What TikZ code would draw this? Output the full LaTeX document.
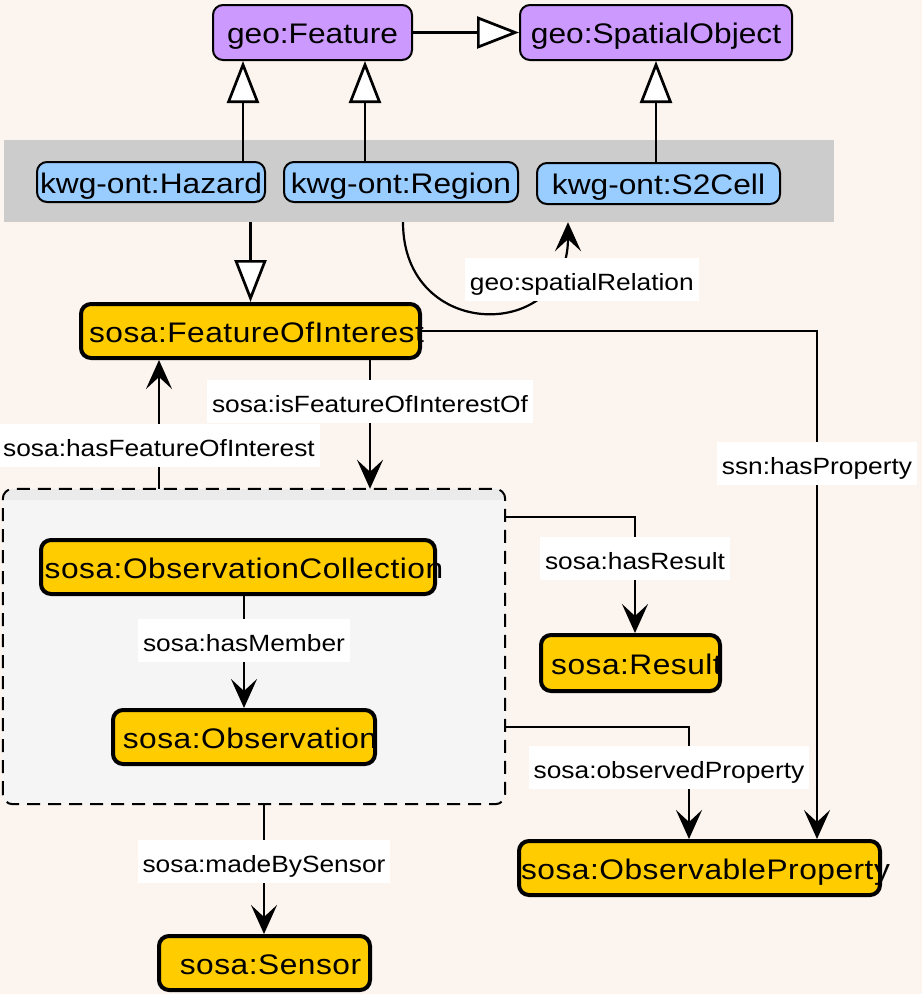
\documentclass[tikz,border=0pt]{standalone}
\usepackage{fontspec}
\setmainfont{Liberation Sans}[FakeStretch=1.12]
\newfontfamily\sosafont{Liberation Sans}[FakeStretch=1.12, LetterSpace=1.8]
\usetikzlibrary{arrows.meta}

% text set in a zero-width box, so a long name runs over the border
% instead of widening its box
\newcommand\overrun[1]{\makebox[0pt]{\hspace*{12pt}#1}}

\definecolor{pagebg}{RGB}{251,244,239}
\definecolor{geoPurple}{HTML}{CC99FF}
\definecolor{kwgBlue}{HTML}{99CCFF}
\definecolor{sosaYellow}{HTML}{FFCC00}
\definecolor{bandGray}{HTML}{CCCCCC}
\definecolor{groupFill}{HTML}{F5F5F5}
\definecolor{groupHead}{HTML}{EBEBEB}

\tikzset{
  cls/.style={draw=black, rounded corners=10pt, inner sep=0pt,
    font=\fontsize{28.3}{34}\selectfont, text height=24pt, text depth=2pt},
  geocls/.style={cls, fill=geoPurple, line width=2pt},
  kwgcls/.style={cls, fill=kwgBlue, line width=2pt},
  sosacls/.style={cls, fill=sosaYellow, line width=4pt,
    font=\sosafont\fontsize{28.3}{34}\selectfont},
  rel/.style={line width=2.7pt, -{Stealth[length=29pt,width=26pt,inset=12pt]}},
  subcls/.style={line width=2.7pt, -{Triangle[length=42pt,width=32pt,fill=white]}},
  lbl/.style={fill=white, inner xsep=5pt, inner ysep=8.5pt,
    font=\fontsize{23.5}{28}\selectfont, text height=24pt, text depth=2pt},
  grpline/.style={line width=2pt, dash pattern=on 13pt off 8pt, rounded corners=10pt},
}

\begin{document}
\begin{tikzpicture}[x=1pt, y=-1pt]
  % page
  \fill[pagebg] (0,0) rectangle (922,994);
  \useasboundingbox (0,0) rectangle (922,994);

  % grey band holding the kwg-ont classes
  \node[fill=bandGray, inner sep=0pt, minimum width=830pt, minimum height=82pt] (band) at (419,181) {};

  % dashed group around the observation collection
  \node[fill=groupFill, rounded corners=10pt, inner sep=0pt,
        minimum width=502pt, minimum height=315pt] (grp) at (254,646.5) {};
  \begin{scope}
    \clip[rounded corners=10pt] (grp.south west) rectangle (grp.north east);
    \fill[groupHead] ([xshift=-2pt]grp.north west) rectangle ([yshift=-11pt,xshift=2pt]grp.north east);
  \end{scope}
  \draw[grpline] (grp.south west) rectangle (grp.north east);

  % classes
  \node[geocls, minimum width=199pt, minimum height=55pt] (feat)  at (312.5,32.5) {geo:Feature};
  \node[geocls, minimum width=272pt, minimum height=55pt] (spobj) at (656,32.5) {geo:SpatialObject};

  \node[kwgcls, minimum width=228pt, minimum height=40pt] (hazard) at (151,182) {kwg-ont:Hazard};
  \node[kwgcls, minimum width=234pt, minimum height=40pt] (region) at (401,182) {kwg-ont:Region};
  \node[kwgcls, minimum width=243pt, minimum height=41pt] (s2cell) at (658.5,183.5) {kwg-ont:S2Cell};

  \node[sosacls, minimum width=339pt, minimum height=54pt] (foi)     at (250.5,331) {\overrun{sosa:FeatureOfInterest}};
  \node[sosacls, minimum width=394pt, minimum height=54pt] (obscoll) at (238,567) {\overrun{sosa:ObservationCollection}};
  \node[sosacls, minimum width=262pt, minimum height=54pt] (obs)     at (244,737) {\overrun{sosa:Observation}};
  \node[sosacls, minimum width=179pt, minimum height=56pt] (result)  at (630.5,663) {\overrun{sosa:Result}};
  \node[sosacls, minimum width=361pt, minimum height=54pt] (obsprop) at (699.5,868) {\overrun{sosa:ObservableProperty}};
  \node[sosacls, minimum width=211pt, minimum height=54pt] (sensor)  at (264.5,963) {\overrun{sosa:Sensor}};

  % subclass links
  \draw[subcls] (feat) -- (spobj);
  \draw[subcls] ([xshift=92pt]hazard.north) -- ([xshift=92pt]hazard.north |- feat.south);
  \draw[subcls] ([xshift=-36pt]region.north) -- ([xshift=-36pt]region.north |- feat.south);
  \draw[subcls] (spobj.south |- s2cell.north) -- (spobj.south);
  \draw[subcls] (foi.north |- band.south) -- (foi.north);

  % properties
  \draw[rel, line width=2.2pt] ([xshift=2pt]region.south |- band.south)
    .. controls +(0,120) and +(0,120) .. ([xshift=32pt]s2cell.south west |- band.south)
    node[lbl, pos=.8, xshift=31pt] {geo:spatialRelation};

  \draw[rel] ([xshift=119.5pt]foi.south) -- ([xshift=119.5pt]foi.south |- grp.north)
    node[lbl, pos=.32] {sosa:isFeatureOfInterestOf};
  \draw[rel] ([xshift=-95pt]grp.north) -- ([xshift=-95pt]grp.north |- foi.south)
    node[lbl, pos=.34] {sosa:hasFeatureOfInterest};

  \draw[rel] (foi.east) -| ([xshift=117.5pt]obsprop.north)
    node[lbl, pos=.63] {ssn:hasProperty};
  \draw[rel] ([yshift=129.5pt]grp.east) -| ([xshift=4.5pt]result.north)
    node[lbl, pos=.68] {sosa:hasResult};
  \draw[rel] ([yshift=-80.5pt]grp.east) -| ([xshift=-10.5pt]obsprop.north)
    node[lbl, pos=.68, xshift=-20pt] {sosa:observedProperty};

  \draw[rel] ([xshift=6pt]obscoll.south) -- ([xshift=6pt]obscoll.south |- obs.north)
    node[lbl, pos=.4] {sosa:hasMember};
  \draw[rel] ([xshift=10pt]grp.south) -- ([xshift=10pt]grp.south |- sensor.north)
    node[lbl, pos=.44] {sosa:madeBySensor};
\end{tikzpicture}
\end{document}
